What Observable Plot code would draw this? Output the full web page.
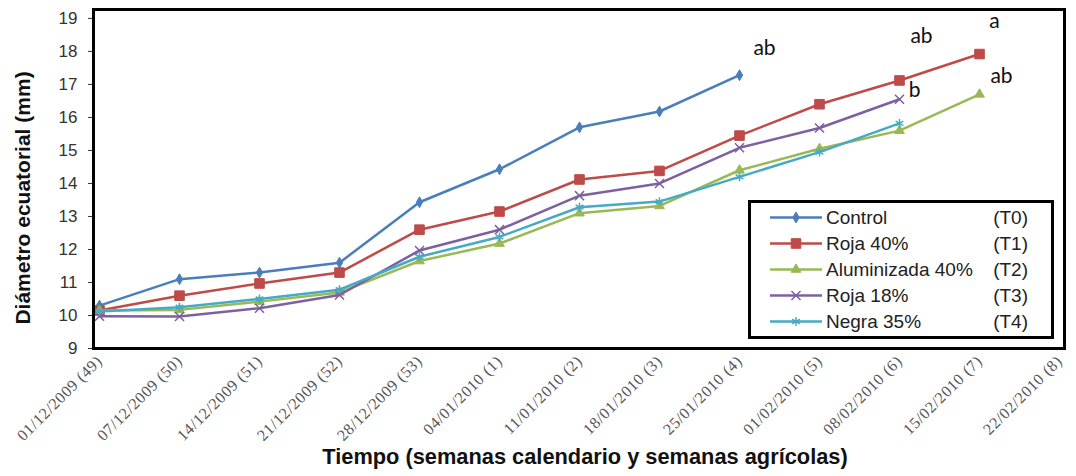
<!DOCTYPE html>
<html><head><meta charset="utf-8">
<script src="https://cdn.jsdelivr.net/npm/d3@7"></script>
<script src="https://cdn.jsdelivr.net/npm/@observablehq/plot@0.6"></script>
<style>
body{margin:0;background:#fff;}
#chart{position:relative;width:1076px;height:476px;}
g[aria-label="x-axis tick label"] text{letter-spacing:0.6px;}
</style></head><body><div id="chart"></div>
<script>
// ---- data ----
const weeks = ["01/12/2009 (49)","07/12/2009 (50)","14/12/2009 (51)","21/12/2009 (52)","28/12/2009 (53)","04/01/2010 (1)","11/01/2010 (2)","18/01/2010 (3)","25/01/2010 (4)","01/02/2010 (5)","08/02/2010 (6)","15/02/2010 (7)","22/02/2010 (8)"];
const seriesNames = ["Control","Roja 40%","Aluminizada 40%","Roja 18%","Negra 35%"];
const seriesCodes = ["(T0)","(T1)","(T2)","(T3)","(T4)"];
const control      = [10.30, 11.10, 11.30, 11.60, 13.43, 14.43, 15.70, 16.18, 17.28];
const roja40       = [10.15, 10.60, 10.97, 11.30, 12.60, 13.15, 14.12, 14.38, 15.45, 16.40, 17.12, 17.92];
const aluminizada40= [10.15, 10.17, 10.42, 10.70, 11.65, 12.18, 13.10, 13.32, 14.40, 15.05, 15.60, 16.70];
const roja18       = [9.98, 9.97, 10.22, 10.62, 11.97, 12.60, 13.63, 14.00, 15.08, 15.68, 16.55];
const negra35      = [10.12, 10.25, 10.50, 10.78, 11.78, 12.38, 13.28, 13.45, 14.20, 14.95, 15.82];
const yTicks = [9,10,11,12,13,14,15,16,17,18,19];
const annoLabels = ["ab","ab","a","b","ab"];
const annoSeries = ["Control","Roja 40%","Roja 40%","Roja 18%","Aluminizada 40%"];
const annoWeeks  = ["25/01/2010 (4)","08/02/2010 (6)","15/02/2010 (7)","08/02/2010 (6)","15/02/2010 (7)"];
const yTitle = "Diámetro ecuatorial (mm)";
const xTitle = "Tiempo (semanas calendario y semanas agrícolas)";

// ---- styles ----
const colors  = ["#4a7ebb","#be4b48","#98b954","#7d60a0","#46aac5"];
const symbols = ["diamond","square","triangle","times","asterisk"];
const radii   = [3.3, 5.4, 3.6, 4.2, 4.2];
const filled  = [true, true, true, false, false];

const values = [control, roja40, aluminizada40, roja18, negra35];
const tables = values.map((vals, i) => vals.map((v, j) => ({series: seriesNames[i], week: weeks[j], value: v})));
const annos = annoLabels.map((t, k) => {
  const si = seriesNames.indexOf(annoSeries[k]);
  const wi = weeks.indexOf(annoWeeks[k]);
  return {label: t, week: annoWeeks[k], value: values[si][wi]};
});
const offsets = [[25,-27],[22,-44],[15,-33],[15,-9],[22,-18]];

const marks = [];
tables.forEach((rows, i) => {
  marks.push(Plot.line(rows, {x: "week", y: "value", stroke: colors[i], strokeWidth: 2.5}));
  marks.push(Plot.dot(rows, {x: "week", y: "value", symbol: symbols[i], r: radii[i],
    fill: filled[i] ? colors[i] : "none", stroke: colors[i], strokeWidth: filled[i] ? 1 : 1.5}));
});
annos.forEach((a, k) => {
  marks.push(Plot.text([a], {x: "week", y: "value", text: "label", dx: offsets[k][0], dy: offsets[k][1],
    fontSize: 21, fontFamily: "Lato, 'Open Sans', sans-serif", fill: "#111", letterSpacing: 1}));
});

const chart = Plot.plot({
  width: 1076, height: 476,
  marginLeft: 93, marginRight: 12, marginTop: 9, marginBottom: 128,
  x: {type: "point", domain: weeks, padding: 0},
  y: {domain: [9, 19.27]},
  style: {fontFamily: "'Liberation Sans', Arial, sans-serif", background: "#fff", overflow: "visible"},
  marks: [
    ...marks,
    Plot.axisY(yTicks, {tickSize: 5, tickPadding: 11, fontSize: 17, color: "#333", label: null}),
    Plot.axisX({tickRotate: -45, tickSize: 0, tickPadding: 10, fontSize: 16,
      fontFamily: "'Liberation Serif', 'Times New Roman', serif", color: "#555", label: null}),
    Plot.text([yTitle], {text: d => d, frameAnchor: "left", textAnchor: "middle", dx: -70, dy: 19, rotate: -90,
      fontSize: 21, fontWeight: "bold", fill: "#111"}),
    Plot.text([xTitle], {text: d => d, frameAnchor: "bottom", textAnchor: "middle", dx: 6, dy: 115,
      fontSize: 21.8, fontWeight: "bold", fill: "#111"}),
    Plot.frame({stroke: "#000", strokeWidth: 3})
  ]
});
document.getElementById("chart").appendChild(chart);

// ---- legend ----
const lg = d3.select("#chart").append("svg")
  .attr("width", 1076).attr("height", 476)
  .style("position", "absolute").style("left", "0px").style("top", "0px")
  .style("pointer-events", "none")
  .style("font-family", "'Liberation Sans', Arial, sans-serif");
lg.append("rect").attr("x", 749.5).attr("y", 201.5).attr("width", 303).attr("height", 136)
  .attr("fill", "#fff").attr("stroke", "#000").attr("stroke-width", 3);
const d3sym = {diamond: d3.symbolDiamond, square: d3.symbolSquare, triangle: d3.symbolTriangle, times: d3.symbolTimes, asterisk: d3.symbolAsterisk};
seriesNames.forEach((name, i) => {
  const cy = 217.5 + i * 26;
  lg.append("line").attr("x1", 770).attr("x2", 822).attr("y1", cy).attr("y2", cy)
    .attr("stroke", colors[i]).attr("stroke-width", 2.5);
  lg.append("path").attr("transform", `translate(796,${cy})`)
    .attr("d", d3.symbol(d3sym[symbols[i]], Math.PI * radii[i] * radii[i])())
    .attr("fill", filled[i] ? colors[i] : "none").attr("stroke", colors[i]).attr("stroke-width", filled[i] ? 1 : 1.5);
  lg.append("text").attr("x", 826).attr("y", cy).attr("dy", "0.35em")
    .attr("font-size", 19).attr("fill", "#222").text(name);
  lg.append("text").attr("x", 1028).attr("y", cy).attr("dy", "0.35em").attr("text-anchor", "end")
    .attr("font-size", 19).attr("fill", "#222").text(seriesCodes[i]);
});
</script></body></html>
